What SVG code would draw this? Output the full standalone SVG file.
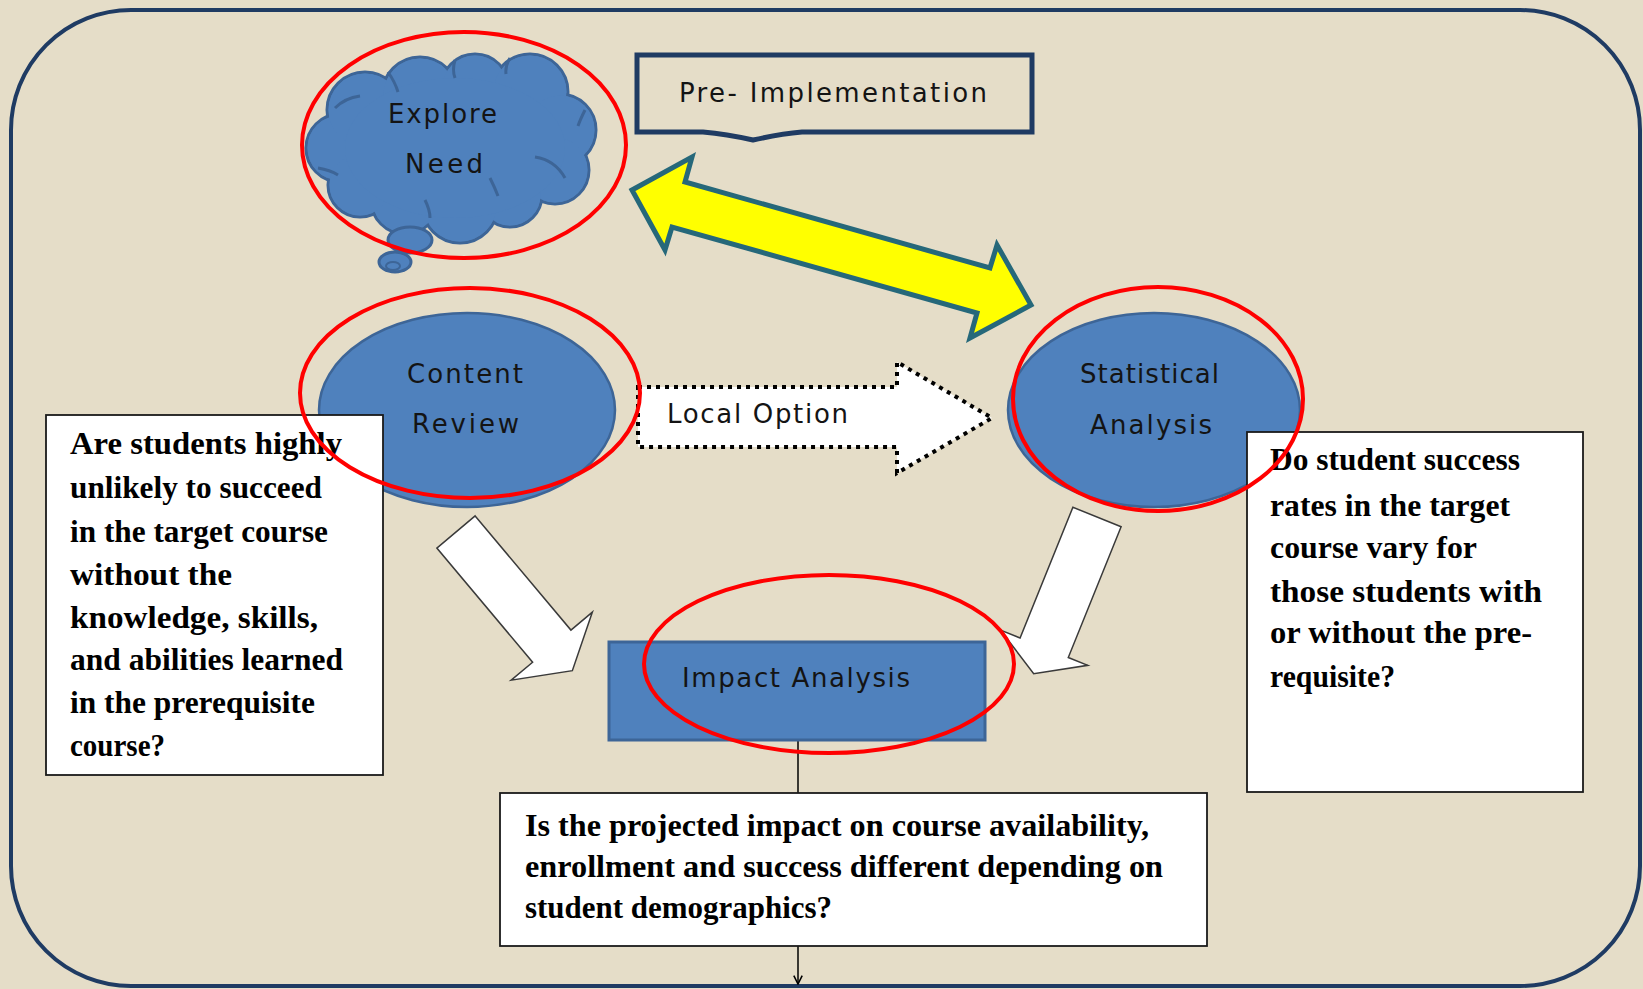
<svg xmlns="http://www.w3.org/2000/svg" width="1643" height="989" viewBox="0 0 1643 989">
<style>
.lbl{font-family:"DejaVu Sans","Liberation Sans",sans-serif;font-size:26px;fill:#141414}
.q{font-family:"Liberation Serif","Times New Roman",serif;font-weight:bold;font-size:31px;fill:#000}
.red{fill:none;stroke:#ff0000;stroke-width:4}
.blue{fill:#4f81bd;stroke:#3d6597;stroke-width:2.5}
.box{fill:#ffffff;stroke:#1a1a1a;stroke-width:1.8}
.warrow{fill:#ffffff;stroke:#3a3a3a;stroke-width:1.5}
</style>
<defs>
<marker id="ah" viewBox="0 0 10 10" refX="9" refY="5" markerWidth="7" markerHeight="7" orient="auto"><path d="M1,1 L9,5 L1,9" fill="none" stroke="#000" stroke-width="1.5"/></marker>
</defs>
<rect x="0" y="0" width="1643" height="989" fill="#e5ddc8"/>
<rect id="frame" x="11" y="10" width="1629" height="976" rx="120" ry="120" fill="#e5ddc8" stroke="#1f3b63" stroke-width="4"/>

<g id="connectors">
  <path id="yellow-arrow" d="M632,190 L692,157 L685,182 L990,268 L997,245 L1031,305 L970,338 L977,313 L672,227 L665,250 Z" fill="#ffff00" stroke="#26687a" stroke-width="5" stroke-linejoin="miter"/>
  <g id="local-option">
    <path d="M638,387 H897 V362 L992,418 L897,473 V447 H638 Z" fill="#ffffff" stroke="#000" stroke-width="4" stroke-dasharray="4 5"/>
    <text class="lbl" x="667" y="423" textLength="181" lengthAdjust="spacing">Local Option</text>
  </g>
  <path id="arrow-left" class="warrow" transform="translate(456,532) rotate(50)" d="M0,-25 H149 V-53 L181,0 L149,53 V25 H0 Z"/>
  <path id="arrow-right" class="warrow" transform="translate(1097,517) rotate(112)" d="M0,-26 H141 V-47 L169,0 L141,47 V26 H0 Z"/>
  <line x1="798" y1="740" x2="798" y2="793" stroke="#000" stroke-width="1.5"/>
  <line x1="798" y1="946" x2="798" y2="984" stroke="#000" stroke-width="1.5" marker-end="url(#ah)"/>
</g>

<g id="explore-need">
  <g fill="#4f81bd" stroke="#3d6597" stroke-width="3">
    <circle cx="340" cy="148" r="34"/>
    <circle cx="365" cy="110" r="38"/>
    <circle cx="420" cy="95" r="38"/>
    <circle cx="475" cy="88" r="34"/>
    <circle cx="530" cy="92" r="38"/>
    <circle cx="560" cy="130" r="36"/>
    <circle cx="555" cy="170" r="34"/>
    <circle cx="510" cy="195" r="32"/>
    <circle cx="460" cy="205" r="38"/>
    <circle cx="405" cy="200" r="34"/>
    <circle cx="360" cy="185" r="32"/>
  </g>
  <g fill="#4f81bd">
    <circle cx="340" cy="148" r="32.5"/>
    <circle cx="365" cy="110" r="36.5"/>
    <circle cx="420" cy="95" r="36.5"/>
    <circle cx="475" cy="88" r="32.5"/>
    <circle cx="530" cy="92" r="36.5"/>
    <circle cx="560" cy="130" r="34.5"/>
    <circle cx="555" cy="170" r="32.5"/>
    <circle cx="510" cy="195" r="30.5"/>
    <circle cx="460" cy="205" r="36.5"/>
    <circle cx="405" cy="200" r="32.5"/>
    <circle cx="360" cy="185" r="30.5"/>
    <ellipse cx="455" cy="148" rx="110" ry="70"/>
  </g>
  <g fill="none" stroke="#3d6597" stroke-width="3">
    <path d="M335,108 Q345,98 360,96"/>
    <path d="M388,72 Q395,82 398,92"/>
    <path d="M455,60 Q452,70 455,78"/>
    <path d="M510,58 Q505,66 506,74"/>
    <path d="M585,110 Q580,120 578,126"/>
    <path d="M535,157 Q555,160 565,178"/>
    <path d="M490,178 Q495,188 498,196"/>
    <path d="M425,200 Q430,210 430,218"/>
    <path d="M318,168 Q330,170 338,175"/>
  </g>
  <ellipse cx="410" cy="240" rx="22" ry="13" fill="#4f81bd" stroke="#3d6597" stroke-width="3"/>
  <ellipse cx="395" cy="262" rx="16" ry="10" fill="#4f81bd" stroke="#3d6597" stroke-width="3"/>
  <ellipse cx="393" cy="266" rx="7" ry="4" fill="none" stroke="#3d6597" stroke-width="2"/>
  <text class="lbl" x="388" y="123" textLength="109" lengthAdjust="spacing">Explore</text>
  <text class="lbl" x="405" y="173" textLength="78" lengthAdjust="spacing">Need</text>
  <ellipse class="red" cx="464" cy="145" rx="162" ry="113"/>
</g>

<g id="pre-implementation">
  <path d="M637,55 H1032 V132 H802 Q780,134 753,140 Q726,134 703,132 H637 Z" fill="none" stroke="#1f3b63" stroke-width="5"/>
  <text class="lbl" x="679" y="102" textLength="308" lengthAdjust="spacing">Pre- Implementation</text>
</g>

<g id="content-review">
  <ellipse class="blue" cx="467" cy="410" rx="148" ry="97"/>
  <text class="lbl" x="407" y="383" textLength="116" lengthAdjust="spacing">Content</text>
  <text class="lbl" x="412" y="433" textLength="107" lengthAdjust="spacing">Review</text>
</g>

<g id="statistical-analysis">
  <ellipse class="blue" cx="1154" cy="410" rx="146" ry="97"/>
  <text class="lbl" x="1080" y="383" textLength="139" lengthAdjust="spacing">Statistical</text>
  <text class="lbl" x="1090" y="434" textLength="122" lengthAdjust="spacing">Analysis</text>
</g>

<g id="question-left">
  <rect class="box" x="46" y="415" width="337" height="360"/>
  <text class="q" x="70" y="454" textLength="272" lengthAdjust="spacingAndGlyphs">Are students highly</text>
  <text class="q" x="70" y="498" textLength="252" lengthAdjust="spacingAndGlyphs">unlikely to succeed</text>
  <text class="q" x="70" y="542" textLength="258" lengthAdjust="spacingAndGlyphs">in the target course</text>
  <text class="q" x="70" y="585" textLength="162" lengthAdjust="spacingAndGlyphs">without the</text>
  <text class="q" x="70" y="628" textLength="248" lengthAdjust="spacingAndGlyphs">knowledge,  skills,</text>
  <text class="q" x="70" y="670" textLength="273" lengthAdjust="spacingAndGlyphs">and abilities  learned</text>
  <text class="q" x="70" y="713" textLength="245" lengthAdjust="spacingAndGlyphs">in the prerequisite</text>
  <text class="q" x="70" y="756" textLength="95" lengthAdjust="spacingAndGlyphs">course?</text>
</g>

<g id="question-right">
  <rect class="box" x="1247" y="432" width="336" height="360"/>
  <text class="q" x="1270" y="470" textLength="250" lengthAdjust="spacingAndGlyphs">Do student success</text>
  <text class="q" x="1270" y="516" textLength="240" lengthAdjust="spacingAndGlyphs">rates  in the target</text>
  <text class="q" x="1270" y="558" textLength="207" lengthAdjust="spacingAndGlyphs">course  vary  for</text>
  <text class="q" x="1270" y="602" textLength="272" lengthAdjust="spacingAndGlyphs">those students with</text>
  <text class="q" x="1270" y="643" textLength="262" lengthAdjust="spacingAndGlyphs">or without the pre-</text>
  <text class="q" x="1270" y="687" textLength="125" lengthAdjust="spacingAndGlyphs">requisite?</text>
</g>

<g id="impact-analysis">
  <rect x="609" y="642" width="376" height="98" fill="#4f81bd" stroke="#3d6597" stroke-width="3"/>
  <text class="lbl" x="682" y="687" textLength="228" lengthAdjust="spacing">Impact Analysis</text>
</g>

<g id="question-bottom">
  <rect class="box" x="500" y="793" width="707" height="153"/>
  <text class="q" x="525" y="836" textLength="624" lengthAdjust="spacingAndGlyphs">Is the projected  impact on course  availability,</text>
  <text class="q" x="525" y="877" textLength="638" lengthAdjust="spacingAndGlyphs">enrollment and success  different  depending on</text>
  <text class="q" x="525" y="918" textLength="307" lengthAdjust="spacingAndGlyphs">student demographics?</text>
</g>

<g id="highlights">
  <ellipse class="red" cx="470" cy="393" rx="170" ry="105"/>
  <ellipse class="red" cx="1158" cy="399" rx="145" ry="112"/>
  <ellipse class="red" cx="829" cy="664" rx="185" ry="89"/>
</g>
</svg>
